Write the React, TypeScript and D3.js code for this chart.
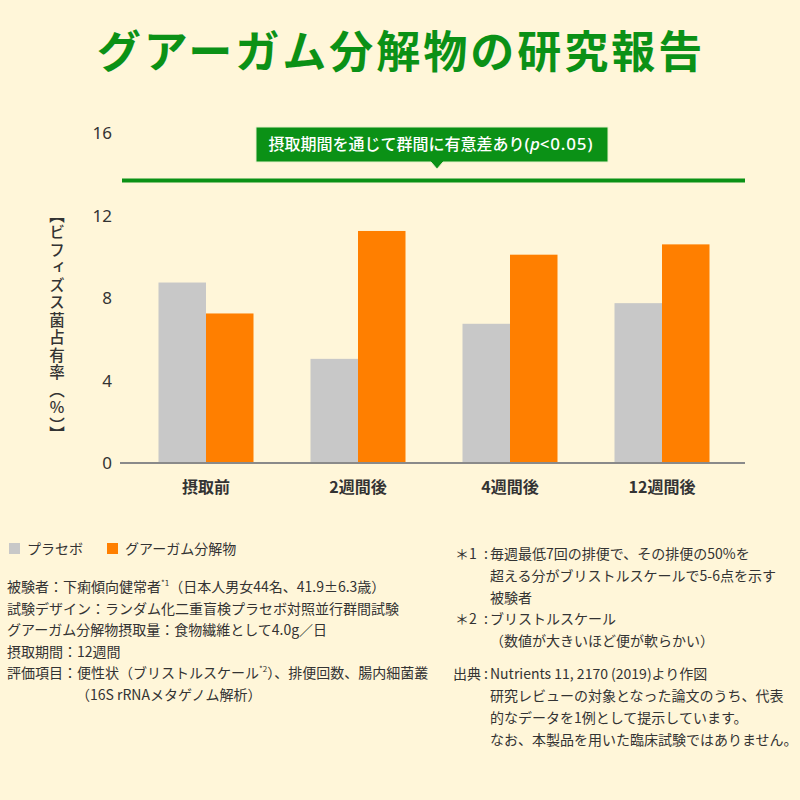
import React from "react";
import * as d3 from "d3";

// bifidobacteria occupancy (%) by period
const periods = ["摂取前", "2週間後", "4週間後", "12週間後"];
const placebo = [8.75, 5.05, 6.75, 7.75];
const ghgDecomposed = [7.25, 11.25, 10.1, 10.6];
const seriesNames = ["プラセボ", "グアーガム分解物"];
const yTicks = [0, 4, 8, 12, 16];
const sigLevel = 13.7;
const sigLabel = "摂取期間を通じて群間に有意差あり";

const notesLeft = [
  ["被験者：下痢傾向健常者", "*1", "（日本人男女44名、41.9±6.3歳）"],
  ["試験デザイン：ランダム化二重盲検プラセボ対照並行群間試験"],
  ["グアーガム分解物摂取量：食物繊維として4.0g／日"],
  ["摂取期間：12週間"],
  ["評価項目：便性状（ブリストルスケール", "*2", "）、排便回数、腸内細菌叢"],
  ["（16S rRNAメタゲノム解析）"],
];
const notesRight = [
  ["＊1", "毎週最低7回の排便で、その排便の50%を"],
  ["", "超える分がブリストルスケールで5-6点を示す"],
  ["", "被験者"],
  ["＊2", "ブリストルスケール"],
  ["", "（数値が大きいほど便が軟らかい）"],
  ["出典", "Nutrients 11, 2170 (2019)より作図"],
  ["", "研究レビューの対象となった論文のうち、代表"],
  ["", "的なデータを1例として提示しています。"],
  ["", "なお、本製品を用いた臨床試験ではありません。"],
];

const GREEN = "#0b9116";
const GRAY = "#c8c8c8";
const ORANGE = "#ff7f00";
const TEXT = "#333333";
const FONT = "'Noto Sans CJK JP', 'Noto Sans', sans-serif";
const LATIN = "'Noto Sans', sans-serif";

const W = 800;
const H = 800;
const margin = { left: 120, right: 55, top: 133, bottom: 337 };

export default function App() {
  const x = d3
    .scaleBand()
    .domain(periods)
    .range([130, 738])
    .paddingInner(0.375)
    .paddingOuter(0.1875);
  const sub = d3.scaleBand().domain(seriesNames).range([0, x.bandwidth()]);
  const y = d3
    .scaleLinear()
    .domain([0, 16])
    .range([H - margin.bottom, margin.top]);

  const colors = [GRAY, ORANGE];
  const values = [placebo, ghgDecomposed];

  const sigY = y(sigLevel);
  const boxX0 = 256;
  const boxX1 = 608;
  const boxY0 = 127;
  const boxY1 = 162;
  const tipX = 437;

  const leftLineY = (i: number) => 592 + i * 21.6;
  const rightLines = [559, 581, 603, 624, 646, 679, 701, 723, 745];

  return (
    <svg
      width={W}
      height={H}
      viewBox={`0 0 ${W} ${H}`}
      style={{ position: "absolute", left: 0, top: 0, background: "#fff6d9" }}
      fontFamily={FONT}
    >
      <rect width={W} height={H} fill="#fff6d9" />

      <text
        x={401}
        y={68}
        textAnchor="middle"
        fontSize={44}
        fontWeight={700}
        letterSpacing={3}
        fill={GREEN}
      >
        グアーガム分解物の研究報告
      </text>

      {/* y ticks */}
      {yTicks.map((t) => (
        <text
          key={t}
          x={112}
          y={y(t)}
          dy="0.36em"
          textAnchor="end"
          fontSize={17}
          fill={TEXT}
          fontFamily={LATIN}
        >
          {t}
        </text>
      ))}

      <text
        x={57}
        y={207}
        fontSize={15.5}
        fontWeight={500}
        fill={TEXT}
        style={{ writingMode: "vertical-rl" }}
        letterSpacing={2}
      >
        【ビフィズス菌占有率（％）】
      </text>

      {/* bars */}
      {periods.map((p, i) => (
        <g key={p} transform={`translate(${x(p)},0)`}>
          {values.map((vals, s) => (
            <rect
              key={s}
              x={sub(seriesNames[s])}
              y={y(vals[i])}
              width={sub.bandwidth()}
              height={y(0) - y(vals[i])}
              fill={colors[s]}
            />
          ))}
          <text
            x={x.bandwidth() / 2}
            y={y(0) + 30}
            textAnchor="middle"
            fontSize={16}
            fontWeight={700}
            fill={TEXT}
          >
            {p}
          </text>
        </g>
      ))}

      <line
        x1={margin.left}
        x2={W - margin.right}
        y1={y(0)}
        y2={y(0)}
        stroke="#8a8a8a"
        strokeWidth={2}
      />

      {/* significance bar and callout */}
      <line
        x1={margin.left + 2}
        x2={W - margin.right}
        y1={sigY}
        y2={sigY}
        stroke={GREEN}
        strokeWidth={4}
      />
      <path
        d={`M${boxX0},${boxY0}H${boxX1}V${boxY1}H${tipX + 6}L${tipX},${boxY1 + 7}L${tipX - 6},${boxY1}H${boxX0}Z`}
        fill={GREEN}
        stroke="#e8f0c8"
        strokeWidth={1}
      />
      <text
        x={(boxX0 + boxX1) / 2 - 1}
        y={(boxY0 + boxY1) / 2}
        dy="0.36em"
        textAnchor="middle"
        fontSize={16}
        fontWeight={500}
        fill="#ffffff"
      >
        {sigLabel}
        <tspan fontFamily={LATIN} fontSize={17}>
          (
        </tspan>
        <tspan fontStyle="italic" fontFamily={LATIN} fontSize={17}>
          p
        </tspan>
        <tspan fontFamily={LATIN} fontSize={17} letterSpacing={0.8}>
          {"<0.05)"}
        </tspan>
      </text>

      {/* legend */}
      {seriesNames.map((n, s) => {
        const lx = s === 0 ? 9 : 107;
        return (
          <g key={n}>
            <rect x={lx} y={543} width={11} height={11} fill={colors[s]} />
            <text x={lx + 18} y={549} dy="0.36em" fontSize={14} fill={TEXT}>
              {n}
            </text>
          </g>
        );
      })}

      {/* study notes */}
      {notesLeft.map((parts, i) => (
        <text
          key={i}
          x={i === 5 ? 76 : 7}
          y={leftLineY(i)}
          fontSize={14}
          fill={TEXT}
        >
          {parts.map((p, j) =>
            p.startsWith("*") ? (
              <tspan key={j} fontSize={8} dy={-6}>
                {p}
              </tspan>
            ) : (
              <tspan key={j} dy={j > 0 ? 6 : 0}>
                {p}
              </tspan>
            )
          )}
        </text>
      ))}

      {notesRight.map(([head, body], i) => (
        <g key={i} fontSize={14} fill={TEXT}>
          {head && (
            <>
              <text x={head === "出典" ? 453 : 455} y={rightLines[i]}>
                {head}
              </text>
              <text x={484} y={rightLines[i]}>
                :
              </text>
            </>
          )}
          <text x={490} y={rightLines[i]}>
            {body}
          </text>
        </g>
      ))}
    </svg>
  );
}
